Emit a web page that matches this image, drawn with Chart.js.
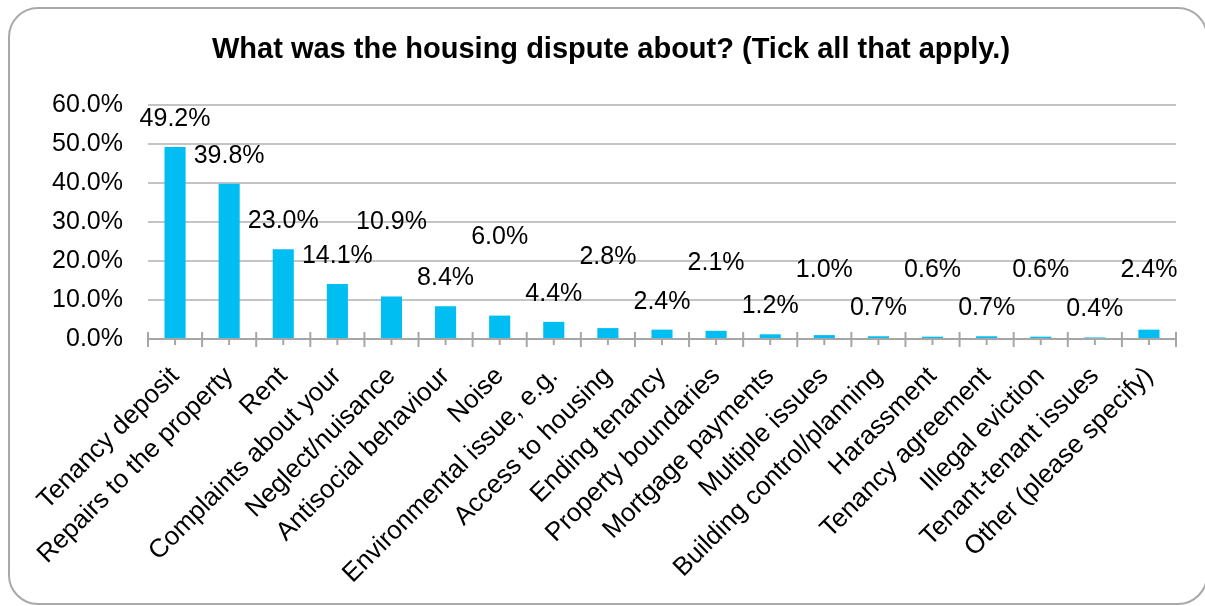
<!DOCTYPE html>
<html lang="en">
<head>
    <meta charset="UTF-8">
    <title>Housing dispute</title>
    <script src="https://cdn.jsdelivr.net/npm/chart.js"></script>
    <style>
        body { margin: 0; background: #fff; }
        #frame {
            position: absolute; left: 8px; top: 7px; width: 1196px; height: 594px;
            border: 2px solid #a9a9a9; border-radius: 30px;
        }
        #chart { position: absolute; left: 0; top: 0; }
    </style>
</head>
<body>
    <div id="frame"></div>
    <canvas id="chart" width="1205" height="606"></canvas>

    <script>
        // categories and values (%)
        const categories = [
            'Tenancy deposit', 'Repairs to the property', 'Rent', 'Complaints about your',
            'Neglect/nuisance', 'Antisocial behaviour', 'Noise', 'Environmental issue, e.g.',
            'Access to housing', 'Ending tenancy', 'Property boundaries', 'Mortgage payments',
            'Multiple issues', 'Building control/planning', 'Harassment', 'Tenancy agreement',
            'Illegal eviction', 'Tenant-tenant issues', 'Other (please specify)'
        ];
        const percentages = [49.2, 39.8, 23.0, 14.1, 10.9, 8.4, 6.0, 4.4, 2.8, 2.4, 2.1, 1.2, 1.0, 0.7, 0.6, 0.7, 0.6, 0.4, 2.4];
        const yTicks = [0, 10, 20, 30, 40, 50, 60];
        const chartTitle = 'What was the housing dispute about? (Tick all that apply.)';

        // extra lift (px) for the staggered data labels
        const labelLift = [0, 0, 0, 0, 46, 0, 50, 0, 43, 0, 40, 0, 37, 0, 39, 0, 39, 0, 32];

        const FONT = "'Liberation Sans', Arial, sans-serif";

        const titleText = {
            id: 'titleText',
            afterDraw(chart) {
                const ctx = chart.ctx;
                ctx.save();
                ctx.font = 'bold 29px ' + FONT;
                ctx.fillStyle = '#000';
                ctx.textAlign = 'center';
                ctx.textBaseline = 'alphabetic';
                ctx.fillText(chartTitle, 611, 58);
                ctx.restore();
            }
        };

        const valueLabels = {
            id: 'valueLabels',
            afterDatasetsDraw(chart) {
                const ctx = chart.ctx;
                const bars = chart.getDatasetMeta(0).data;
                ctx.save();
                ctx.font = '25px ' + FONT;
                ctx.fillStyle = '#000';
                ctx.textAlign = 'center';
                ctx.textBaseline = 'middle';
                bars.forEach((bar, i) => {
                    ctx.fillText(percentages[i].toFixed(1) + '%', bar.x, bar.y - 28 - labelLift[i]);
                });
                ctx.restore();
            }
        };

        // small tick marks on the category axis
        const axisTicks = {
            id: 'axisTicks',
            afterDraw(chart) {
                const ctx = chart.ctx;
                const x = chart.scales.x;
                const y0 = chart.chartArea.bottom;
                const step = x.getPixelForValue(1) - x.getPixelForValue(0);
                ctx.save();
                ctx.strokeStyle = '#a6a6a6';
                ctx.lineWidth = 2;
                ctx.beginPath();
                for (let i = 0; i < categories.length; i++) {
                    const c = x.getPixelForValue(i);
                    ctx.moveTo(c, y0); ctx.lineTo(c, y0 + 6);
                    ctx.moveTo(c - step / 2, y0 - 7); ctx.lineTo(c - step / 2, y0 + 8);
                }
                const last = x.getPixelForValue(categories.length - 1) + step / 2;
                ctx.moveTo(last, y0 - 7); ctx.lineTo(last, y0 + 8);
                ctx.stroke();
                ctx.restore();
            }
        };

        new Chart(document.getElementById('chart').getContext('2d'), {
            type: 'bar',
            data: {
                labels: categories,
                datasets: [{
                    data: percentages,
                    backgroundColor: '#00bdf2',
                    barPercentage: 0.78,
                    categoryPercentage: 0.5
                }]
            },
            options: {
                responsive: false,
                animation: false,
                devicePixelRatio: 1,
                layout: { padding: { left: 0, right: 29, top: 105, bottom: 0 } },
                plugins: {
                    legend: { display: false },
                    tooltip: { enabled: false },
                    title: { display: false }
                },
                scales: {
                    x: {
                        grid: { display: false, drawTicks: false },
                        border: { display: true, color: '#a6a6a6', width: 2 },
                        ticks: {
                            color: '#000',
                            font: { family: FONT, size: 26 },
                            maxRotation: 45,
                            minRotation: 45,
                            autoSkip: false,
                            padding: 22
                        },
                        afterFit(scale) { scale.height = 606 - 339; }
                    },
                    y: {
                        min: 0,
                        max: 60,
                        afterBuildTicks(scale) { scale.ticks = yTicks.map(v => ({ value: v })); },
                        grid: { color: '#c4c4c4', lineWidth: 2, drawTicks: false },
                        border: { display: false },
                        ticks: {
                            color: '#000',
                            font: { family: FONT, size: 25 },
                            padding: 25,
                            callback: v => v.toFixed(1) + '%'
                        },
                        afterFit(scale) { scale.width = 148; }
                    }
                }
            },
            plugins: [valueLabels, axisTicks, titleText]
        });
    </script>
</body>
</html>
